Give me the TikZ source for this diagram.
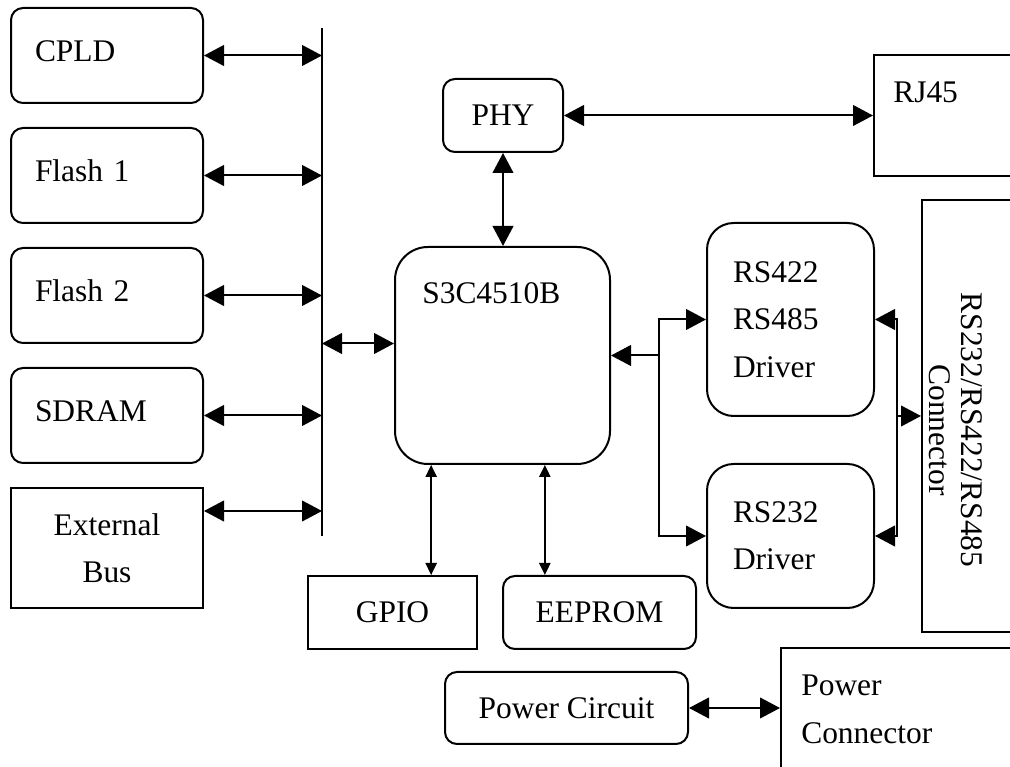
\documentclass[tikz,border=0pt]{standalone}
\usepackage{fontspec}
\setmainfont{Liberation Serif}
\usetikzlibrary{arrows.meta}

\begin{document}
\begin{tikzpicture}[x=0.75pt, y=0.75pt,
  box/.style={draw, line width=1.5pt, inner sep=0pt, font=\fontsize{23.6pt}{35.6pt}\selectfont},
  rbox/.style={box, rounded corners=9pt},
  memory/.style={rbox, minimum width=144pt, minimum height=71.25pt, text width=108pt, inner xsep=18pt, align=left, text height=16.5pt, text depth=7pt},
  driver/.style={box, rounded corners=20pt, minimum width=125.25pt, text width=86.25pt, inner xsep=19.5pt, align=left},
  lbl/.style={inner sep=0pt, font=\fontsize{23.6pt}{35.6pt}\selectfont},
  bus/.style={line width=1.5pt, {Triangle[length=15pt,width=15.5pt]}-{Triangle[length=15pt,width=15.5pt]}},
  link/.style={line width=1.5pt, -{Triangle[length=15pt,width=15.5pt]}},
  thinbus/.style={line width=1.2pt, {Triangle[length=9pt,width=8.5pt]}-{Triangle[length=9pt,width=8.5pt]}}
]
\useasboundingbox (0,0) rectangle (1010,767);
\clip (0,0) rectangle (1010,767);

\node[memory] (cpld) at (107,711.5) {CPLD};
\node[memory] (flasha) at (107,591.5) {Flash 1};
\node[memory] (flashb) at (107,471.5) {Flash 2};
\node[memory] (sdram) at (107,351.5) {SDRAM};
\node[box, minimum width=144pt, minimum height=90pt, align=center] (extbus) at (107,219) {External\\Bus};

\coordinate (bustop) at (322,739);
\coordinate (busbot) at (322,231);
\draw[line width=1.5pt] (bustop) -- (busbot);

\node[box, rounded corners=24.75pt, minimum width=161.25pt, minimum height=162.75pt] (s3c) at (502.5,411.5) {};
\node[lbl, anchor=base west] (s3ctxt) at ([shift={(28,-58)}]s3c.north west) {S3C4510B};

\node[rbox, minimum width=90pt, minimum height=54.75pt] (phy) at (503,651.5) {PHY};
\node[box, minimum width=124.5pt, minimum height=90.75pt] (rj) at (957,651.5) {};
\node[lbl, anchor=base west] (rjtxt) at ([shift={(20,-49)}]rj.north west) {RJ45};

\node[driver, minimum height=144.75pt] (rsa) at (790.5,447.5) {RS422\\RS485\\Driver};
\node[driver, minimum height=108pt] (rsb) at (790.5,231) {RS232\\Driver};
\node[box, minimum width=88.5pt, minimum height=324pt] (conn) at (981,351) {};
\node[lbl, rotate=-90, align=center, font=\fontsize{23.6pt}{24pt}\selectfont] (conntxt) at ([shift={(-25,-14)}]conn.center) {RS232/RS422/RS485\\Connector};

\node[box, minimum width=126.75pt, minimum height=54.75pt] (gpio) at (392.5,154.5) {GPIO};
\node[rbox, minimum width=144.75pt, minimum height=54.75pt] (eeprom) at (599.5,154.5) {EEPROM};
\node[rbox, minimum width=182.25pt, minimum height=54pt] (pwr) at (566.5,59) {Power Circuit};
\node[box, minimum width=194.25pt, minimum height=114pt] (pconn) at (910.5,43) {};
\node[lbl, anchor=north west, align=left] (pconntxt) at ([shift={(21,-28)}]pconn.north west) {Power\\Connector};

\foreach \m in {cpld,flasha,flashb,sdram}
  \draw[bus] (\m.east) -- (\m.east -| bustop);
\coordinate (extport) at ([yshift=-18pt]extbus.north east);
\draw[bus] (extport) -- (extport -| bustop);
\coordinate (cpuport) at ([yshift=9pt]s3c.west);
\draw[bus] (cpuport -| bustop) -- (cpuport);

\draw[bus] (phy.south) -- (phy.south |- s3c.north);
\draw[bus] (phy.east) -- (rj.west);

\coordinate (fork) at ([xshift=36pt]s3c.east);
\draw[link] (fork) -- (s3c.east);
\draw[link] (fork) |- (rsa.west);
\draw[link] (fork) |- (rsb.west);

\coordinate (join) at ([xshift=-18pt]conn.west);
\draw[link] (join) |- (rsa.east);
\draw[link] (join) |- (rsb.east);
\draw[link] (join) -- (conn.west);

\coordinate (gpioport) at ([xshift=29pt]gpio.north);
\draw[thinbus] (gpioport |- s3c.south) -- (gpioport);
\coordinate (eepromport) at ([xshift=-41pt]eeprom.north);
\draw[thinbus] (eepromport |- s3c.south) -- (eepromport);

\draw[bus] (pwr.east) -- (pwr.east -| pconn.west);
\end{tikzpicture}
\end{document}
